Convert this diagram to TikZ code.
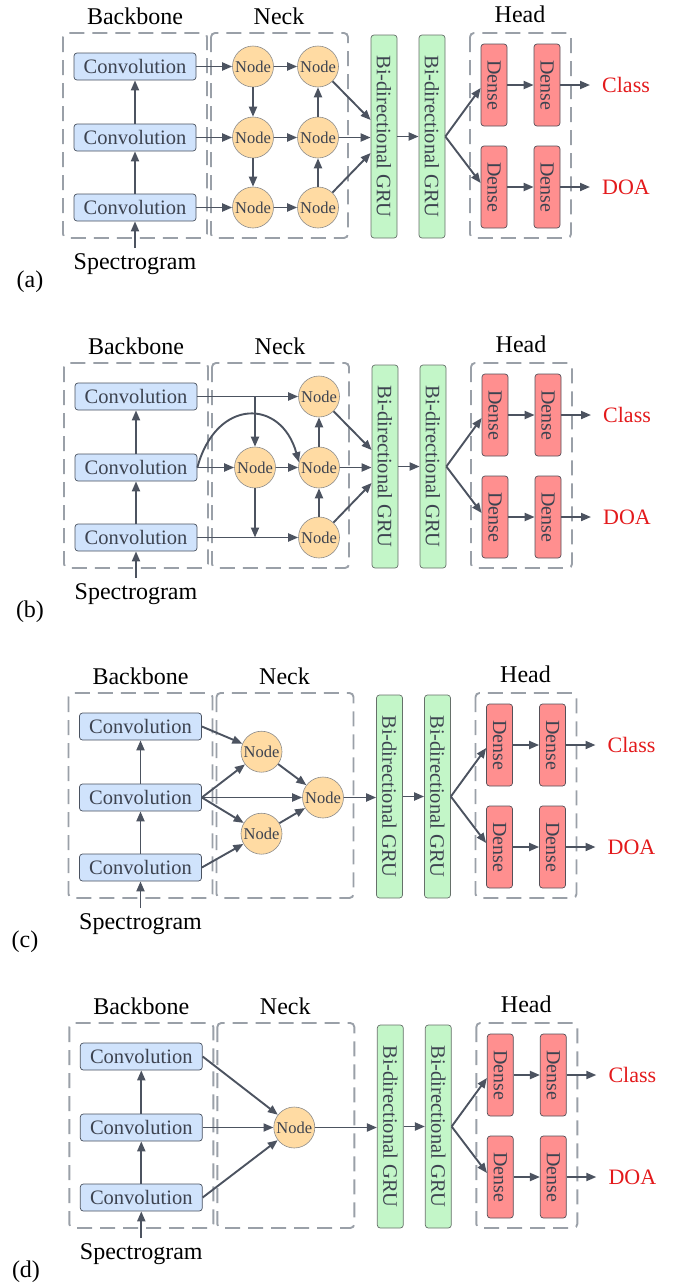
\documentclass[tikz,border=0pt]{standalone}
\usepackage{fontspec}
\setmainfont{Liberation Serif}
\usepackage{graphicx}
\usetikzlibrary{arrows.meta,calc}
\definecolor{convfill}{HTML}{D0E3FC}
\definecolor{convdraw}{HTML}{4A5260}
\definecolor{nodefill}{HTML}{FFDBA3}
\definecolor{nodedraw}{HTML}{8C8C8C}
\definecolor{grufill}{HTML}{C3F6C8}
\definecolor{grudraw}{HTML}{66706A}
\definecolor{densefill}{HTML}{FF8F8F}
\definecolor{densedraw}{HTML}{555058}
\definecolor{arrowc}{HTML}{4C5360}
\definecolor{dashc}{HTML}{9AA0A8}
\definecolor{redc}{HTML}{E31A1C}
\definecolor{textc}{HTML}{3D4350}
\tikzset{
  conv/.style={draw=convdraw, fill=convfill, rounded corners=3pt, line width=0.7pt,
    minimum width=122pt, minimum height=27pt, inner sep=0pt, text=textc,
    font=\fontsize{20.5pt}{24pt}\selectfont},
  nd/.style={circle, draw=nodedraw, fill=nodefill, line width=0.6pt,
    minimum size=41pt, inner sep=0pt, text=textc,
    font=\fontsize{16.5pt}{18pt}\selectfont},
  gru/.style={draw=grudraw, fill=grufill, rounded corners=3pt, line width=0.7pt,
    minimum width=26pt, minimum height=203pt, inner sep=0pt, text=textc,
    font=\fontsize{20.5pt}{24pt}\selectfont},
  dense/.style={draw=densedraw, fill=densefill, rounded corners=3pt, line width=0.7pt,
    minimum width=26pt, minimum height=82pt, inner sep=0pt, text=textc,
    font=\fontsize{20pt}{24pt}\selectfont},
  grp/.style={draw=dashc, dash pattern=on 15pt off 8pt, line width=1.9pt, rounded corners=4pt},
  arr/.style={draw=arrowc, line width=1.9pt, -{Triangle[length=10pt,width=8pt]}},
  lab/.style={font=\fontsize{24pt}{28pt}\selectfont, inner sep=0pt},
  outlab/.style={font=\fontsize{22pt}{26pt}\selectfont, text=redc, inner sep=0pt, anchor=west}
}
\newcommand{\panelcommon}[1]{%
  \draw[grp] (63,33) rectangle (207,238);
  \draw[grp] (211,33) rectangle (348,238);
  \draw[grp] (470,33) rectangle (571,238);
  \node[lab,anchor=base] (#1lbb) at (135,24) {Backbone};
  \node[lab,anchor=base] (#1lnk) at (279,24) {Neck};
  \node[lab,anchor=base] (#1lhd) at (520,22) {Head};
  \node[conv] (#1c1) at (135,66.5) {Convolution};
  \node[conv] (#1c2) at (135,137.5) {Convolution};
  \node[conv] (#1c3) at (135,207.5) {Convolution};
  \node[lab,anchor=base] (#1sp) at (135,269) {Spectrogram};
  \coordinate (#1spt) at (135,248);
  \draw[arr] (#1spt) -- (#1c3);
  \draw[arr] (#1c3) -- (#1c2);
  \draw[arr] (#1c2) -- (#1c1);
  \node[gru] (#1g1) at (384,136.5) {\rotatebox{-90}{Bi-directional GRU}};
  \node[gru] (#1g2) at (432,136.5) {\rotatebox{-90}{Bi-directional GRU}};
  \draw[arr] (#1g1) -- (#1g2);
  \node[dense] (#1d11) at (494,85) {\rotatebox{-90}{Dense}};
  \node[dense] (#1d12) at (547,85) {\rotatebox{-90}{Dense}};
  \node[dense] (#1d21) at (494,187) {\rotatebox{-90}{Dense}};
  \node[dense] (#1d22) at (547,187) {\rotatebox{-90}{Dense}};
  \node[outlab] (#1cls) at (602,85) {Class};
  \node[outlab] (#1doa) at (602,187) {DOA};
  \draw[arr] (#1g2.east) -- ([yshift=-3pt]#1d11.west);
  \draw[arr] (#1g2.east) -- ([yshift=4pt]#1d21.west);
  \draw[arr] (#1d11) -- (#1d12);
  \draw[arr] (#1d21) -- (#1d22);
  \draw[arr,shorten >=12pt] (#1d12) -- (#1cls.west);
  \draw[arr,shorten >=12pt] (#1d22) -- (#1doa.west);
}
\begin{document}
\begin{tikzpicture}[x=1pt,y=-1pt]
\useasboundingbox (0,0) rectangle (677,1288);
% ---------------- (a)
\begin{scope}
\panelcommon{a}
\node[nd] (an11) at (253,66.5) {Node};
\node[nd] (an12) at (253,137.5) {Node};
\node[nd] (an13) at (253,207.5) {Node};
\node[nd] (an21) at (318,66.5) {Node};
\node[nd] (an22) at (318,137.5) {Node};
\node[nd] (an23) at (318,207.5) {Node};
\draw[arr] (ac1) -- (an11);
\draw[arr] (ac2) -- (an12);
\draw[arr] (ac3) -- (an13);
\draw[arr] (an11) -- (an21);
\draw[arr] (an12) -- (an22);
\draw[arr] (an13) -- (an23);
\draw[arr] (an11) -- (an12);
\draw[arr] (an12) -- (an13);
\draw[arr] (an23) -- (an22);
\draw[arr] (an22) -- (an21);
\draw[arr] (an21) -- ([yshift=16.5pt]ag1.west);
\draw[arr] (an22) -- (an22 -| ag1.west);
\draw[arr] (an23) -- ([yshift=-16.5pt]ag1.west);
\end{scope}
\node[lab,anchor=base] (la) at (30,287) {(a)};
% ---------------- (b)
\begin{scope}[shift={(1,330)}]
\panelcommon{b}
\node[nd] (bn12) at (254,137.5) {Node};
\node[nd] (bn21) at (318,66.5) {Node};
\node[nd] (bn22) at (318,137.5) {Node};
\node[nd] (bn23) at (318,207.5) {Node};
\draw[arr] (bc1) -- (bn21);
\draw[arr] (bn12 |- bc1.east) -- (bn12);
\draw[arr] (bc2) -- (bn12);
\draw[arr] (bc2.east) .. controls (215,68) and (280,68) .. (bn22.165);
\draw[arr] (bn12) -- (bn12 |- bc3.east);
\draw[arr] (bc3) -- (bn23);
\draw[arr] (bn12) -- (bn22);
\draw[arr] (bn23) -- (bn22);
\draw[arr] (bn22) -- (bn21);
\draw[arr] (bn21) -- ([yshift=16.5pt]bg1.west);
\draw[arr] (bn22) -- (bn22 -| bg1.west);
\draw[arr] (bn23) -- ([yshift=-16.5pt]bg1.west);
\end{scope}
\node[lab,anchor=base] (lb) at (30,617) {(b)};
% ---------------- (c)
\begin{scope}[shift={(5.5,660)}]
\panelcommon{c}
\node[nd] (cn1) at (256,91.7) {Node};
\node[nd] (cn2) at (256,173.7) {Node};
\node[nd] (cno) at (317.5,137.5) {Node};
\draw[arr] (cc1.east) -- (cn1);
\draw[arr] (cc2.east) -- (cn1);
\draw[arr] (cc2.east) -- (cn2);
\draw[arr] (cc2) -- (cno);
\draw[arr] (cc3.east) -- (cn2);
\draw[arr] (cn1) -- (cno);
\draw[arr] (cn2) -- (cno);
\draw[arr] (cno) -- (cno -| cg1.west);
\end{scope}
\node[lab,anchor=base] (lc) at (25,947) {(c)};
% ---------------- (d)
\begin{scope}[shift={(6.3,990)}]
\panelcommon{d}
\node[nd] (dn) at (288,137.5) {Node};
\draw[arr] (dc1.east) -- (dn);
\draw[arr] (dc2) -- (dn);
\draw[arr] (dc3.east) -- (dn);
\draw[arr] (dn) -- (dn -| dg1.west);
\end{scope}
\node[lab,anchor=base] (ld) at (26,1277) {(d)};
\end{tikzpicture}
\end{document}
